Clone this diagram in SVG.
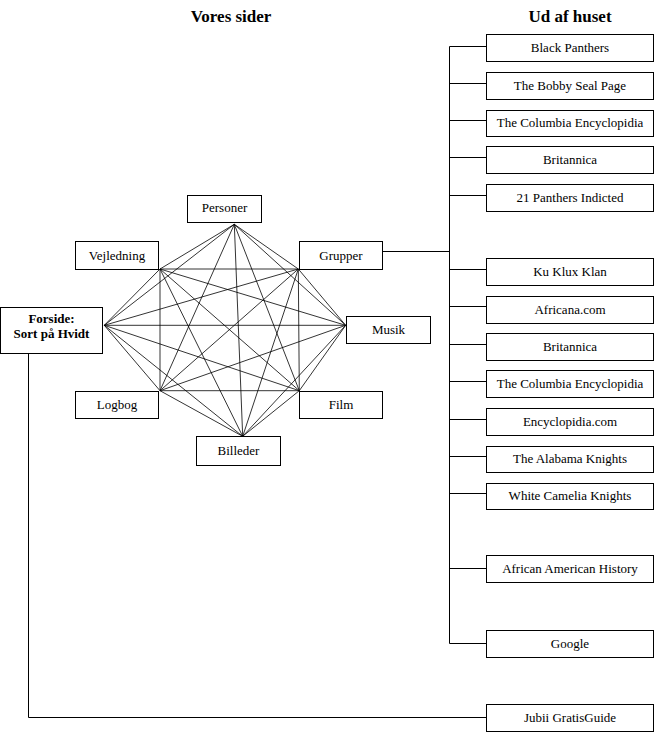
<svg xmlns="http://www.w3.org/2000/svg" width="655" height="733" viewBox="0 0 655 733">
<style>
  .box { fill: #fff; stroke: #000; stroke-width: 1; }
  .t { font-family: "Liberation Serif", "Times New Roman", serif; font-size: 13px; fill: #000; text-anchor: middle; }
  .b { font-weight: bold; }
  .title { font-family: "Liberation Serif", "Times New Roman", serif; font-size: 17px; font-weight: bold; fill: #000; text-anchor: middle; }
  .wire { fill: none; stroke: #000; stroke-width: 1; }
  .mesh { fill: none; stroke: #000; stroke-width: 0.8; }
</style>
<rect x="0" y="0" width="655" height="733" fill="#fff"/>
<text class="title" x="231" y="21.5">Vores sider</text>
<text class="title" x="570" y="21.5">Ud af huset</text>

<g id="connectors">
  <path class="mesh" d="
    M234.3,224.3 L160,269 M234.3,224.3 L298.3,269 M234.3,224.3 L104.3,325.3 M234.3,224.3 L345.7,325.3
    M234.3,224.3 L160,390.7 M234.3,224.3 L299.3,390.7 M234.3,224.3 L242.7,436.3
    M160,269 L298.3,269 M160,269 L104.3,325.3 M160,269 L345.7,325.3 M160,269 L160,390.7
    M160,269 L299.3,390.7 M160,269 L242.7,436.3
    M298.3,269 L104.3,325.3 M298.3,269 L345.7,325.3 M298.3,269 L160,390.7 M298.3,269 L299.3,390.7
    M298.3,269 L242.7,436.3
    M104.3,325.3 L345.7,325.3 M104.3,325.3 L160,390.7 M104.3,325.3 L299.3,390.7 M104.3,325.3 L242.7,436.3
    M345.7,325.3 L160,390.7 M345.7,325.3 L299.3,390.7 M345.7,325.3 L242.7,436.3
    M160,390.7 L299.3,390.7 M160,390.7 L242.7,436.3
    M299.3,390.7 L242.7,436.3"/>
  <path class="wire" d="M382.5,251.5 H449.5 M449.5,46.5 V643.5
    M449.5,46.5 H486.5 M449.5,83.5 H486.5 M449.5,120.5 H486.5 M449.5,157.5 H486.5 M449.5,195.5 H486.5
    M449.5,269.5 H486.5 M449.5,306.5 H486.5 M449.5,344.5 H486.5 M449.5,381.5 H486.5 M449.5,419.5 H486.5
    M449.5,456.5 H486.5 M449.5,493.5 H486.5 M449.5,568.5 H486.5 M449.5,643.5 H486.5
    M28.5,353 V717.5 H486.5"/>
</g>

<g id="personer"><rect class="box" x="187.5" y="195.5" width="74" height="27"/><text class="t" x="224.5" y="212">Personer</text></g>
<g id="vejledning"><rect class="box" x="75.5" y="241.5" width="83" height="28"/><text class="t" x="117" y="260">Vejledning</text></g>
<g id="grupper"><rect class="box" x="299.5" y="241.5" width="83" height="28"/><text class="t" x="341" y="260">Grupper</text></g>
<g id="forside"><rect class="box" x="0.5" y="307.5" width="102" height="46"/><text class="t b" x="51.5" y="323">Forside:</text><text class="t b" x="51.5" y="338">Sort på Hvidt</text></g>
<g id="musik"><rect class="box" x="346.5" y="316.5" width="84" height="27"/><text class="t" x="388.5" y="333.5">Musik</text></g>
<g id="logbog"><rect class="box" x="75.5" y="391.5" width="83" height="27"/><text class="t" x="117" y="408.5">Logbog</text></g>
<g id="film"><rect class="box" x="299.5" y="391.5" width="83" height="27"/><text class="t" x="341" y="408.5">Film</text></g>
<g id="billeder"><rect class="box" x="196.5" y="436.5" width="84" height="29"/><text class="t" x="238.5" y="455">Billeder</text></g>

<g id="black-panthers"><rect class="box" x="486.5" y="34.5" width="167" height="27"/><text class="t" x="570" y="51.5">Black Panthers</text></g>
<g id="bobby-seal"><rect class="box" x="486.5" y="72.5" width="167" height="27"/><text class="t" x="570" y="89.5">The Bobby Seal Page</text></g>
<g id="columbia-1"><rect class="box" x="486.5" y="110.5" width="167" height="26"/><text class="t" x="570" y="127">The Columbia Encyclopidia</text></g>
<g id="britannica-1"><rect class="box" x="486.5" y="146.5" width="167" height="27"/><text class="t" x="570" y="163.5">Britannica</text></g>
<g id="panthers-indicted"><rect class="box" x="486.5" y="184.5" width="167" height="27"/><text class="t" x="570" y="201.5">21 Panthers Indicted</text></g>
<g id="kkk"><rect class="box" x="486.5" y="258.5" width="167" height="27"/><text class="t" x="570" y="275.5">Ku Klux Klan</text></g>
<g id="africana"><rect class="box" x="486.5" y="296.5" width="167" height="27"/><text class="t" x="570" y="313.5">Africana.com</text></g>
<g id="britannica-2"><rect class="box" x="486.5" y="333.5" width="167" height="27"/><text class="t" x="570" y="350.5">Britannica</text></g>
<g id="columbia-2"><rect class="box" x="486.5" y="370.5" width="167" height="27"/><text class="t" x="570" y="387.5">The Columbia Encyclopidia</text></g>
<g id="encyclopidia-com"><rect class="box" x="486.5" y="408.5" width="167" height="27"/><text class="t" x="570" y="425.5">Encyclopidia.com</text></g>
<g id="alabama"><rect class="box" x="486.5" y="446.5" width="167" height="26"/><text class="t" x="570" y="463">The Alabama Knights</text></g>
<g id="white-camelia"><rect class="box" x="486.5" y="483.5" width="167" height="26"/><text class="t" x="570" y="500">White Camelia Knights</text></g>
<g id="african-american"><rect class="box" x="486.5" y="555.5" width="167" height="27"/><text class="t" x="570" y="572.5">African American History</text></g>
<g id="google"><rect class="box" x="486.5" y="630.5" width="167" height="27"/><text class="t" x="570" y="647.5">Google</text></g>
<g id="jubii"><rect class="box" x="486.5" y="704.5" width="167" height="27"/><text class="t" x="570" y="721.5">Jubii GratisGuide</text></g>
</svg>
